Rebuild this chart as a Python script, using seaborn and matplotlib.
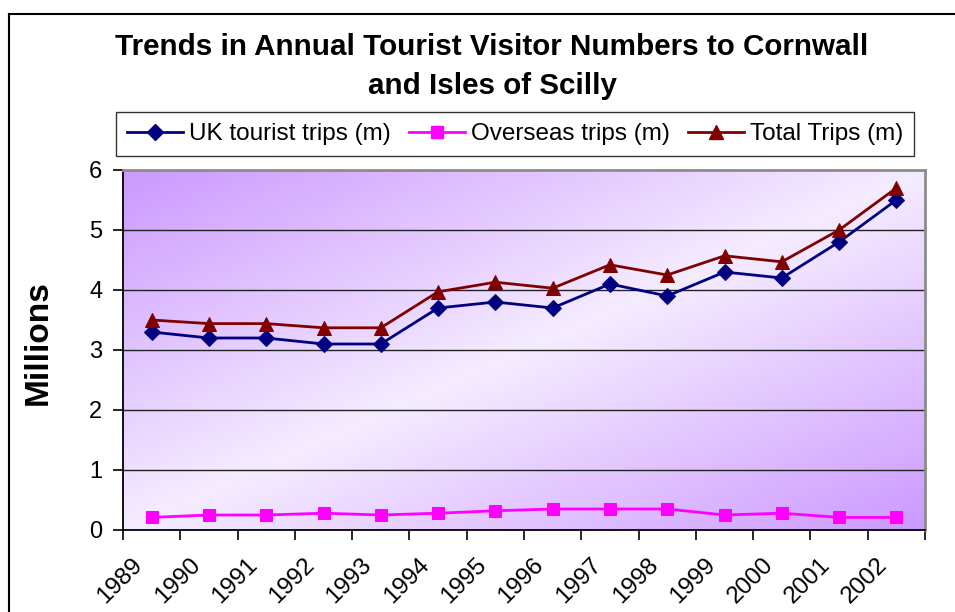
import numpy as np
import pandas as pd
import matplotlib
matplotlib.use("Agg")
import matplotlib.pyplot as plt
from matplotlib.lines import Line2D
from matplotlib.transforms import ScaledTranslation
import seaborn as sns

plt.rcParams["font.family"] = ["Liberation Sans", "DejaVu Sans"]

years = ["1989", "1990", "1991", "1992", "1993", "1994", "1995",
         "1996", "1997", "1998", "1999", "2000", "2001", "2002"]
uk_trips = [3.3, 3.2, 3.2, 3.1, 3.1, 3.7, 3.8, 3.7, 4.1, 3.9, 4.3, 4.2, 4.8, 5.5]
overseas_trips = [0.21, 0.25, 0.25, 0.28, 0.25, 0.28, 0.32, 0.35, 0.35, 0.35,
                  0.25, 0.28, 0.21, 0.21]
total_trips = [3.5, 3.44, 3.44, 3.37, 3.37, 3.97, 4.13, 4.03, 4.42, 4.25,
               4.57, 4.47, 5.0, 5.7]

series_names = ["UK tourist trips (m)", "Overseas trips (m)", "Total Trips (m)"]
series_colors = ["#000080", "#FF00FF", "#800000"]
series_markers = ["D", "s", "^"]
series_msize = [8.5, 8.5, 10.5]

df = pd.DataFrame({
    "pos": np.tile(np.arange(len(years)), 3),
    "value": uk_trips + overseas_trips + total_trips,
    "series": np.repeat(series_names, len(years)),
})

fig = plt.figure(figsize=(9.55, 6.12), dpi=100)
fig.patch.set_facecolor("white")
ax = fig.add_axes([123 / 955, 1 - 530 / 612, 802 / 955, 360 / 612])

# diagonal lavender gradient behind the plot area
H, W = 200, 400
u = np.linspace(0, 1, W)[None, :]
v = np.linspace(0, 1, H)[:, None]
d = np.abs((u + v) / 2 - 0.5) * 2
edge = np.array([204, 153, 255]) / 255
mid = np.array([245, 236, 255]) / 255
grad = mid + (edge - mid) * d[..., None]
ax.imshow(grad, extent=[0, 1, 0, 1], transform=ax.transAxes,
          aspect="auto", zorder=0, interpolation="bilinear")

for name, col, mk, ms in zip(series_names, series_colors, series_markers, series_msize):
    sub = df[df["series"] == name]
    sns.lineplot(data=sub, x="pos", y="value", ax=ax, color=col, marker=mk,
                 markersize=ms, markeredgecolor=col, linewidth=2,
                 label=name, zorder=3)

ax.set_xlim(-0.5, len(years) - 0.5)
ax.set_ylim(0, 6)
ax.set_yticks(range(0, 7))
ax.set_xticks(np.arange(-0.5, len(years), 1.0))
ax.set_xticklabels([])
ax.set_xticks(np.arange(len(years)), minor=True)
ax.set_xticklabels(years, minor=True, rotation=45, ha="right",
                   rotation_mode="anchor", fontsize=17.5)
ax.tick_params(axis="x", which="minor", length=0, pad=14)
ax.tick_params(axis="x", which="major", length=7, width=1.2, direction="out", color="black")
ax.tick_params(axis="y", length=7, width=1.2, direction="out", labelsize=17, pad=8)
shift = ScaledTranslation(-20 / 100, -4 / 100, fig.dpi_scale_trans)
for lab in ax.get_xticklabels(minor=True):
    lab.set_transform(lab.get_transform() + shift)
ax.set_xlabel("")
ax.set_ylabel("Millions", fontsize=24, fontweight="bold")
ax.yaxis.set_label_coords(-0.086, 0.522)

ax.grid(False)
for yv in range(1, 6):
    ax.axhline(yv, color="#222222", linewidth=1.0, zorder=1)

for side in ["left", "bottom"]:
    ax.spines[side].set_color("black")
    ax.spines[side].set_linewidth(1.3)
for side in ["top", "right"]:
    ax.spines[side].set_color("#8c8c8c")
    ax.spines[side].set_linewidth(2)

ax.get_legend().remove()
handles = [Line2D([0], [0], color=c, marker=m, markersize=s, linewidth=2)
           for c, m, s in zip(series_colors, series_markers, series_msize)]
fig.legend(handles, series_names, loc="center", bbox_to_anchor=(515 / 955, 1 - 134 / 612),
           ncol=3, fontsize=17.5, frameon=True, fancybox=False, edgecolor="black",
           handlelength=2.3, handletextpad=0.25, columnspacing=0.75,
           borderpad=0.45)
fig.legends[0].get_frame().set_linewidth(1.0)

fig.text(492 / 955, 1 - 47 / 612, "Trends in Annual Tourist Visitor Numbers to Cornwall",
         ha="center", va="center", fontsize=21.3, fontweight="bold")
fig.text(492 / 955, 1 - 86 / 612, "and Isles of Scilly",
         ha="center", va="center", fontsize=21.3, fontweight="bold")

# chart border
fig.add_artist(Line2D([8.5 / 955, 8.5 / 955], [0, 1 - 14 / 612], color="black",
                      linewidth=1.5, transform=fig.transFigure))
fig.add_artist(Line2D([8.5 / 955, 1], [1 - 14 / 612, 1 - 14 / 612], color="black",
                      linewidth=1.5, transform=fig.transFigure))

fig.savefig("out.png", dpi=100)
